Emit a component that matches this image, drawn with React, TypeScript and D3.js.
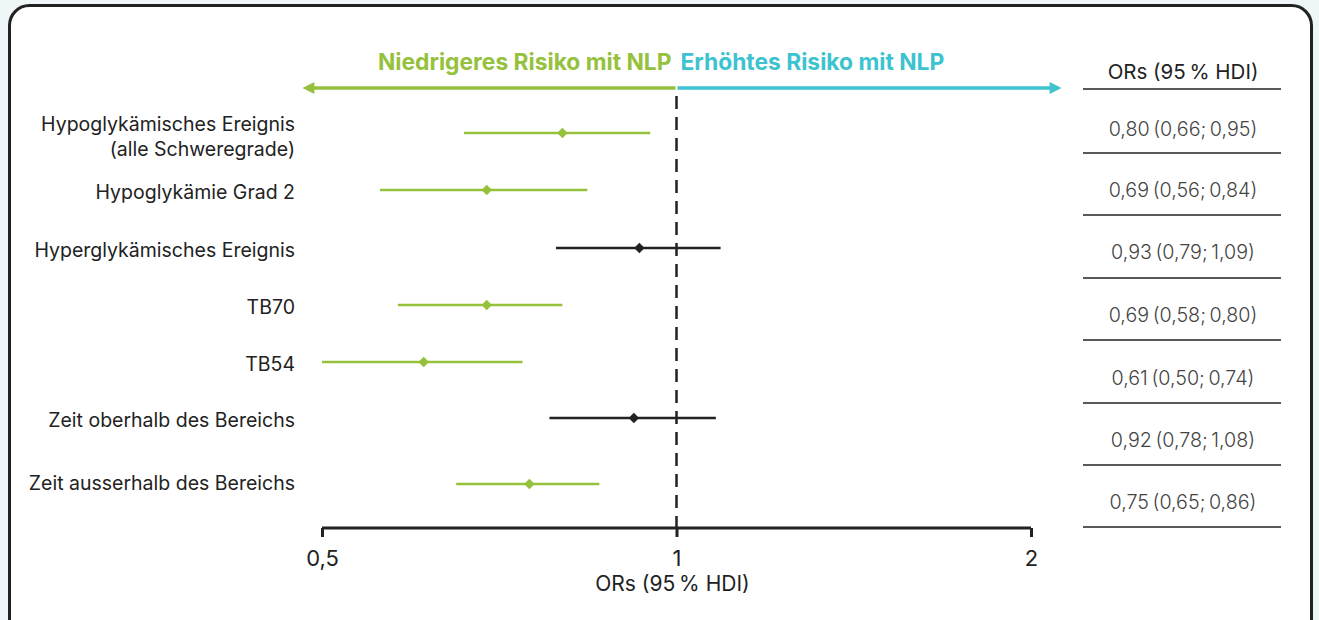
import React, { useEffect, useRef } from 'react';
import * as d3 from 'd3';

const outcomes = [
  'Hypoglykämisches Ereignis\n(alle Schweregrade)',
  'Hypoglykämie Grad 2',
  'Hyperglykämisches Ereignis',
  'TB70',
  'TB54',
  'Zeit oberhalb des Bereichs',
  'Zeit ausserhalb des Bereichs',
];
const orValues = [0.80, 0.69, 0.93, 0.69, 0.61, 0.92, 0.75];
const lowerValues = [0.66, 0.56, 0.79, 0.58, 0.50, 0.78, 0.65];
const upperValues = [0.95, 0.84, 1.09, 0.80, 0.74, 1.08, 0.86];
const xTicks = [0.5, 1, 2];

const GREEN = '#95c13d';
const CYAN = '#3cc3cf';
const DARK = '#222';
const FONT = 'Inter, Roboto, "Noto Sans", sans-serif';
const TS = '\u2009'; // thin space

const fmt = (v: number) => v.toFixed(2).replace('.', ',');

export default function App() {
  const svgRef = useRef<SVGSVGElement | null>(null);

  useEffect(() => {
    if (!svgRef.current) return;
    const svg = d3.select(svgRef.current);
    svg.selectAll('*').remove();

    const width = 1319;
    const height = 620;

    // background + frame
    svg.append('rect').attr('width', width).attr('height', height).attr('fill', '#eef6f8');
    svg.append('rect')
      .attr('x', 9.5).attr('y', 5.5)
      .attr('width', 1302).attr('height', 640)
      .attr('rx', 20)
      .attr('fill', '#fff')
      .attr('stroke', DARK)
      .attr('stroke-width', 3);

    const x = d3.scaleLog().base(2).domain([0.5, 2]).range([322, 1031]);
    const rowY = [133, 190, 248, 305, 362, 418, 484];
    const tableY = [129, 190, 252, 315, 378, 440, 502];
    const tableLines = [89, 153, 215, 278, 340, 403, 465, 527];

    // direction arrows
    const defs = svg.append('defs');
    const mk = (id: string, color: string) => defs.append('marker')
      .attr('id', id).attr('viewBox', '0 0 10 10').attr('refX', 2).attr('refY', 5)
      .attr('markerWidth', 4.2).attr('markerHeight', 3.4).attr('orient', 'auto-start-reverse')
      .attr('markerUnits', 'strokeWidth')
      .append('path').attr('d', 'M0,0L10,5L0,10Z').attr('fill', color);
    mk('arrG', GREEN);
    mk('arrC', CYAN);

    svg.append('line')
      .attr('x1', x(1) - 1).attr('x2', 312).attr('y1', 88).attr('y2', 88)
      .attr('stroke', GREEN).attr('stroke-width', 3.5).attr('marker-end', 'url(#arrG)');
    svg.append('line')
      .attr('x1', x(1) + 1).attr('x2', 1052).attr('y1', 88).attr('y2', 88)
      .attr('stroke', CYAN).attr('stroke-width', 3.5).attr('marker-end', 'url(#arrC)');

    svg.append('text')
      .attr('x', x(1) - 5).attr('y', 70)
      .attr('text-anchor', 'end')
      .attr('font-family', FONT).attr('font-weight', 700).attr('font-size', 22.8)
      .attr('fill', GREEN)
      .text('Niedrigeres Risiko mit NLP');
    svg.append('text')
      .attr('x', x(1) + 4).attr('y', 70)
      .attr('font-family', FONT).attr('font-weight', 700).attr('font-size', 22.8)
      .attr('fill', CYAN)
      .text('Erhöhtes Risiko mit NLP');

    // reference line at 1
    svg.append('line')
      .attr('x1', x(1)).attr('x2', x(1)).attr('y1', 96).attr('y2', 527)
      .attr('stroke', DARK).attr('stroke-width', 2.5)
      .attr('stroke-dasharray', '13,8');

    // x axis
    const axis = svg.append('g')
      .attr('transform', 'translate(0,528)')
      .call(d3.axisBottom(x).tickValues(xTicks).tickSize(9).tickSizeOuter(0)
        .tickFormat(d => String(d).replace('.', ',')));
    axis.select('.domain').attr('stroke', DARK).attr('stroke-width', 3).attr('d', `M${x(0.5)},0H${x(2)}`);
    axis.selectAll('.tick line').attr('stroke', DARK).attr('stroke-width', 3);
    axis.selectAll('.tick text')
      .attr('font-family', FONT).attr('font-size', 22).attr('fill', DARK).attr('dy', 0).attr('y', 38);

    svg.append('text')
      .attr('x', x(1) - 4).attr('y', 591)
      .attr('text-anchor', 'middle')
      .attr('font-family', FONT).attr('font-size', 21).attr('fill', DARK)
      .text(`ORs (95${TS}% HDI)`);

    // rows
    outcomes.forEach((label, i) => {
      const sig = upperValues[i] < 1;
      const color = sig ? GREEN : DARK;
      const y = rowY[i];
      const lines = label.split('\n');
      const t = svg.append('text')
        .attr('text-anchor', 'end')
        .attr('font-family', FONT).attr('font-size', 19.5).attr('fill', DARK);
      const startY = lines.length > 1 ? y - 2 : y + (i === outcomes.length - 1 ? 6 : 9);
      lines.forEach((ln, j) => {
        t.append('tspan').attr('x', 295).attr('y', startY + j * 25).text(ln);
      });

      svg.append('line')
        .attr('x1', x(lowerValues[i])).attr('x2', x(upperValues[i]))
        .attr('y1', y).attr('y2', y)
        .attr('stroke', color).attr('stroke-width', 2.5);
      svg.append('path')
        .attr('d', d3.symbol().type(d3.symbolDiamond2).size(70)())
        .attr('transform', `translate(${x(orValues[i])},${y})`)
        .attr('fill', color);

      svg.append('text')
        .attr('x', 1183).attr('y', tableY[i] + 7)
        .attr('text-anchor', 'middle')
        .attr('font-family', FONT).attr('font-size', 19.7).attr('fill', '#444').attr('font-weight', 300)
        .text(`${fmt(orValues[i])}${TS}(${fmt(lowerValues[i])};${TS}${fmt(upperValues[i])})`);
    });

    // table header + rules
    svg.append('text')
      .attr('x', 1183).attr('y', 79)
      .attr('text-anchor', 'middle')
      .attr('font-family', FONT).attr('font-size', 20.5).attr('fill', DARK)
      .text(`ORs (95${TS}% HDI)`);
    tableLines.forEach(ly => {
      svg.append('line')
        .attr('x1', 1083).attr('x2', 1281).attr('y1', ly).attr('y2', ly)
        .attr('stroke', DARK).attr('stroke-width', 1.5);
    });
  }, []);

  return (
    <svg ref={svgRef} width={1319} height={620}
      style={{ position: 'absolute', left: 0, top: 0, display: 'block' }} />
  );
}
